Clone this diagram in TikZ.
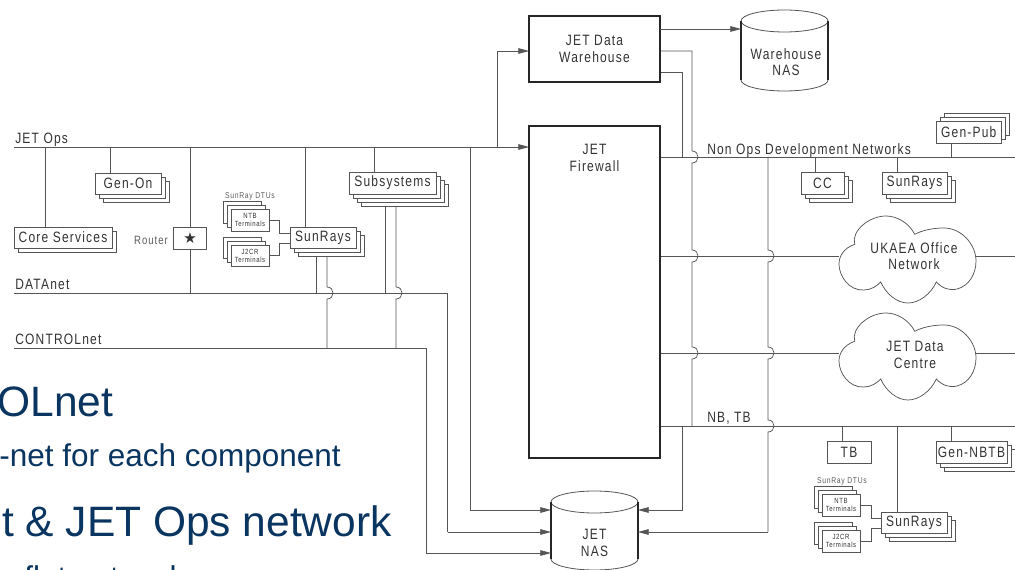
\documentclass[tikz,border=0pt]{standalone}
\usepackage{fontspec}
\setmainfont{Liberation Sans}
\newfontfamily\dgm[LetterSpace=8,FakeStretch=0.8]{Liberation Sans}
\newfontfamily\sym{DejaVu Sans}
\usetikzlibrary{arrows.meta,backgrounds}
\definecolor{ln}{HTML}{555555}
\definecolor{ink}{HTML}{333333}
\definecolor{deep}{HTML}{0A3560}
\newcommand\fsz[1]{\fontsize{\dimexpr#1pt*3/4\relax}{\dimexpr#1pt*81/100\relax}\selectfont}
\tikzset{
  wire/.style={draw=ln,line width=0.55pt},
  arrowed/.style={wire,-{Triangle[length=8pt,width=4.2pt]}},
  boxln/.style={draw=ln,line width=0.6pt,fill=white},
  front/.style={boxln,inner sep=0pt,outer sep=0pt,text=ink,font=\dgm\fsz{15},align=center},
  small/.style={boxln,inner sep=0pt,outer sep=0pt,text=ink,font=\dgm\fsz{7.5},align=center},
  heavy/.style={draw=black!85,line width=1.3pt,fill=white,inner sep=0pt,outer sep=0pt,text=ink,font=\dgm\fsz{15},align=center},
  lbl/.style={inner sep=0pt,text=ink,font=\dgm\fsz{15},align=center},
  sm/.style={inner sep=0pt,text=ink!80,font=\dgm\fsz{8.5},align=center},
  rtxt/.style={inner sep=0pt,text=ink!80,font=\dgm\fsz{12}},
  head/.style={inner sep=0pt,text=deep,font=\fsz{42.5},anchor=base east},
  sub/.style={inner sep=0pt,text=deep,font=\fsz{31.5},anchor=base east},
}
% name, x1,y1,x2,y2, layers, dx,dy, text
\newcommand\stk[9]{%
  \foreach \i in {#6,...,1}{\path[boxln] (#2+\i*#7,#3+\i*#8) rectangle (#4+\i*#7,#5+\i*#8);}
  \node[front,minimum width={(#4-#2)*0.75pt},minimum height={(#5-#3)*0.75pt}] (#1) at ({(#2+#4)/2},{(#3+#5)/2}) {#9};}
\newcommand\smk[6]{%
  \foreach \i in {2,1}{\path[boxln] (#2-\i*4,#3-\i*4) rectangle (#4-\i*4,#5-\i*4);}
  \node[small,minimum width={(#4-#2)*0.75pt},minimum height={(#5-#3)*0.75pt}] (#1) at ({(#2+#4)/2},{(#3+#5)/2}) {#6};}
% vertical hop over a horizontal wire at x=#1, y=#2
\newcommand\hop[2]{-- (#1,#2-6) .. controls (#1+8,#2-6) and (#1+8,#2+6) .. (#1,#2+6)}
\newcommand\cloudat[2]{%
  \path[boxln,line width=0.55pt,shift={(#1,#2)}] (15.7,28.3) .. controls (5,32) and (0,40) .. (0,48)
   .. controls (0,60) and (10,75) .. (25,74) .. controls (32,74) and (38,70) .. (41.7,66)
   .. controls (47,78) and (58,87) .. (69,87) .. controls (80,87) and (92,78) .. (97.3,66)
   .. controls (103,72) and (110,75) .. (118,73) .. controls (130,70) and (137,58) .. (137,45)
   .. controls (137,28) and (122,12) .. (105,12) .. controls (92,12) and (82,15) .. (75.7,18.3)
   .. controls (70,7) and (58,0) .. (47,0) .. controls (30,0) and (12,15) .. (15.7,28.3) -- cycle;}
\newcommand\cyl[5]{% x1,x2,ytop-centre,ybot-centre,ry
  \path[fill=white] (#1,#3) -- (#1,#4) arc[start angle=180,end angle=0,x radius={(#2-#1)/2},y radius=#5] -- (#2,#3) arc[start angle=0,end angle=-180,x radius={(#2-#1)/2},y radius=#5];
  \draw[ln,line width=0.6pt] (#1,#3) arc[start angle=180,end angle=540,x radius={(#2-#1)/2},y radius=#5];
  \draw[ln,line width=0.6pt] (#1,#4) arc[start angle=180,end angle=0,x radius={(#2-#1)/2},y radius=#5];
  \draw[black!85,line width=1.1pt] (#1,#3) -- (#1,#4) (#2,#3) -- (#2,#4);}
\begin{document}
\begin{tikzpicture}[x=0.75pt,y=-0.75pt]
\useasboundingbox (0,0) rectangle (1015,570);
\clip (0,0) rectangle (1015,570);

% ---- left boxes
\stk{core}{14}{227}{112}{248}{1}{4}{4}{Core Services}
\stk{genon}{95}{173}{161}{194}{2}{4}{4}{Gen-On}
\node[front,minimum width=24.75pt,minimum height=16.5pt,font=\sym\fsz{15}] (router) at (190,238) {★};
\node[rtxt] (routerlbl) at (151,240) {Router};
\stk{sun}{290}{227}{356}{248}{2}{4}{4}{SunRays}
\stk{subs}{349}{172}{436}{194}{3}{4}{4}{Subsystems}
\node[sm] (dtu1) at (250,196) {SunRay DTUs};
\smk{ntb}{231}{209}{269}{231}{NTB\\Terminals}
\smk{jcr}{231}{245}{269}{266}{J2CR\\Terminals}

% ---- right top
\node[heavy,minimum width=98.25pt,minimum height=49.5pt] (dw) at (594.5,49) {JET Data\\Warehouse};
\node[heavy,minimum width=98.25pt,minimum height=249pt] (fw) at (594.5,292) {};
\node[lbl] (fwlbl) at (594.5,158) {JET\\Firewall};
\cyl{741}{828}{21}{80}{11}
\node[lbl] (wn) at (786,62) {Warehouse\\NAS};
\cyl{551}{638}{502}{559}{11}
\node[lbl] (jn) at (594.5,543) {JET\\NAS};

\stk{genpub}{936}{121}{1001.5}{143}{2}{4}{-4}{Gen-Pub}
\stk{cc}{801}{172}{844}{194}{2}{4}{4}{CC}
\stk{sr2}{882}{172}{947}{194}{2}{4}{4}{SunRays}
\cloudat{839}{216}
\node[lbl] (uk) at (914,256.5) {UKAEA Office\\Network};
\cloudat{839}{313}
\node[lbl] (dc) at (915,355) {JET Data\\Centre};
\node[front,minimum width=33pt,minimum height=16.5pt] (tb) at (849,452) {TB};
\stk{nbtb}{936}{441}{1007}{463}{2}{4}{4}{Gen-NBTB}
\stk{sr3}{881}{512}{947}{533}{2}{4}{4}{SunRays}
\node[sm] (dtu2) at (842,481) {SunRay DTUs};
\smk{ntbb}{822}{494}{860}{516}{NTB\\Terminals}
\smk{jcrb}{822}{530}{860}{552}{J2CR\\Terminals}

% ---- bus labels
\node[lbl,anchor=base west] (lops) at (15,144) {JET Ops};
\node[lbl,anchor=base west] (ldat) at (15,290) {DATAnet};
\node[lbl,anchor=base west] (lctl) at (15,345) {CONTROLnet};
\node[lbl,anchor=base west] (lnon) at (707,154.5) {Non Ops Development Networks};
\node[lbl,anchor=base west] (lnb) at (707,423) {NB, TB};

% ---- slide text
\node[head] (t1) at (113.5,417) {OLnet};
\node[sub] (t2) at (341,467) {-net for each component};
\node[head] (t3) at (392,537) {t \& JET Ops network};
\node[sub,anchor=base west] (t4) at (24,588) {flat network};

% ---- named bus points
\coordinate (a) at (14,147); \coordinate (a2) at (497,147); \coordinate (a3) at (470,147);
\coordinate (d) at (14,293); \coordinate (c) at (14,348);
\coordinate (dEnd) at (447.5,293); \coordinate (cEnd) at (426,348);
\coordinate (nl) at (551,510); \coordinate (nm) at (551,532); \coordinate (nb) at (551,553);
\coordinate (nrt) at (638,510); \coordinate (nrb) at (638,532);
\coordinate (fn) at (660,157); \coordinate (fu) at (660,256); \coordinate (fj) at (660,353); \coordinate (fb) at (660,426);
\coordinate (en) at (1015,157); \coordinate (eu) at (1015,256); \coordinate (ej) at (1015,353); \coordinate (eb) at (1015,426);
\coordinate (cloudUL) at (839,256); \coordinate (cloudUR) at (976,256);
\coordinate (cloudJL) at (839,353); \coordinate (cloudJR) at (976,353);
\coordinate (dw1) at (660,29); \coordinate (dw2) at (660,51); \coordinate (dw3) at (660,72);
\coordinate (fwin) at (529,147); \coordinate (dwin) at (529,51); \coordinate (wnin) at (741,29);

\begin{scope}[on background layer]
\fill[white] (0,0) rectangle (1015,570);
\path[wire] (a) -- (a2);
\path[wire] (d) -- (dEnd) -- (dEnd |- nm);
\path[wire] (c) -- (cEnd) -- (cEnd |- nb);
\foreach \x/\n in {45/core,110/genon,190/router,305/sun,374.5/subs}{\path[wire] (\x,0 |- a) -- (\x,0 |- \n.center);}
\path[wire] (router) -- (router |- d);
\path[wire] (316.5,0 |- sun.center) -- (316.5,0 |- d);
\path[wire] (327,0 |- sun.center) \hop{327}{293} -- (327,0 |- c);
\path[wire] (385,0 |- subs.center) -- (385,0 |- d);
\path[wire] (396,0 |- subs.center) \hop{396}{293} -- (396,0 |- c);
% terminals to SunRays
\path[wire] (ntb.east) -| (279,233) -- (sun.west |- 0,233);
\path[wire] (jcr.east) -| (279,243) -- (sun.west |- 0,243);
\path[wire] (ntbb.east) -| (871,518) -- (sr3.west |- 0,518);
\path[wire] (jcrb.east) -| (871,528) -- (sr3.west |- 0,528);
% right buses
\path[wire] (fn) -- (en);
\path[wire] (fu) -- (cloudUL) (cloudUR) -- (eu);
\path[wire] (fj) -- (cloudJL) (cloudJR) -- (ej);
\path[wire] (fb) -- (eb);
\path[wire] (dw2) -- (692,51) \hop{692}{157} \hop{692}{256} \hop{692}{353} -- (692,426);
\path[wire] (dw3) -- (682,72) -- (682,157);
\path[wire] (768,157) \hop{768}{256} \hop{768}{353} \hop{768}{426} -- (768,532);
% stubs from buses to boxes
\path[wire] (815.5,157) -- (815.5,0 |- cc.center);
\path[wire] (897,157) -- (897,0 |- sr2.center);
\path[wire] (951,157) -- (951,0 |- genpub.center);
\path[wire] (842.7,426) -- (842.7,0 |- tb.center);
\path[wire] (951,426) -- (951,0 |- nbtb.center);
\path[wire] (897,426) -- (897,0 |- sr3.center);
\end{scope}
% arrows
\draw[arrowed] (a2) -- (fwin);
\draw[arrowed] (a2) -- (497,51) -- (dwin);
\draw[arrowed] (dw1) -- (wnin);
\draw[arrowed] (a3) -- (a3 |- nl) -- (nl);
\draw[arrowed] (dEnd |- nm) -- (nm);
\draw[arrowed] (cEnd |- nb) -- (nb);
\draw[arrowed] (682,426) -- (682,510) -- (nrt);
\draw[arrowed] (768,532) -- (nrb);
\end{tikzpicture}
\end{document}
